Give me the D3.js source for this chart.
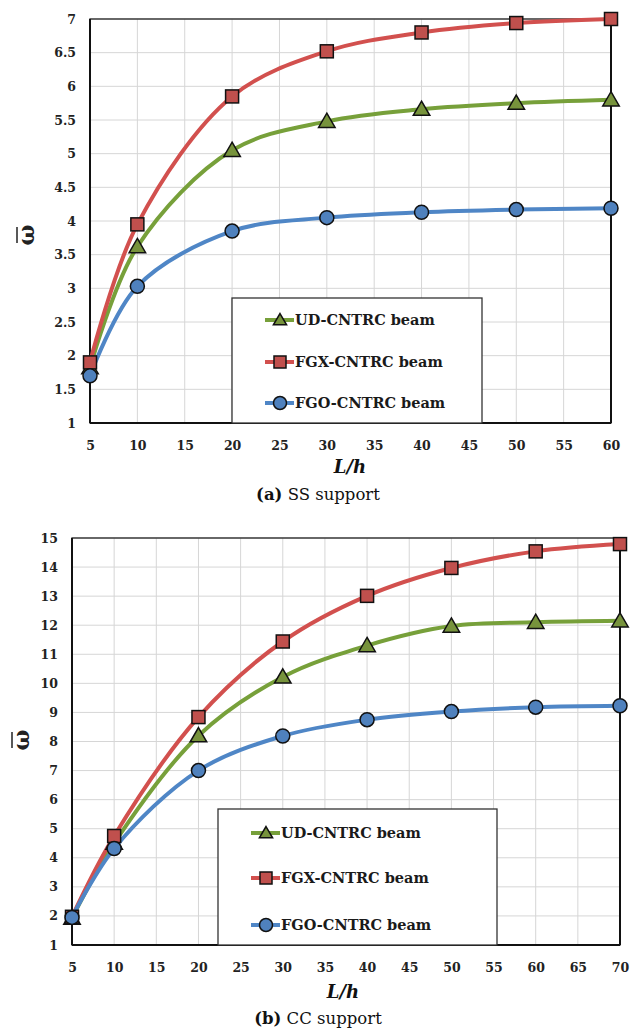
<!DOCTYPE html>
<html><head><meta charset="utf-8">
<script src="https://cdn.jsdelivr.net/npm/d3@7"></script>
<style>
body{margin:0;background:#fff;}
svg{display:block;}
text{font-family:"DejaVu Serif",serif;}
</style></head>
<body>
<svg id="c" width="630" height="1035"></svg>
<script>
// ---- data ----
const seriesNames = ["UD-CNTRC beam","FGX-CNTRC beam","FGO-CNTRC beam"];
const xTop = [5,10,20,30,40,50,60];
const udTop = [1.82,3.62,5.05,5.48,5.66,5.75,5.80];
const fgxTop = [1.90,3.95,5.85,6.52,6.80,6.94,7.00];
const fgoTop = [1.70,3.03,3.85,4.05,4.13,4.17,4.19];
const xTicksTop = [5,10,15,20,25,30,35,40,45,50,55,60];
const yTicksTop = [1,1.5,2,2.5,3,3.5,4,4.5,5,5.5,6,6.5,7];

const xBot = [5,10,20,30,40,50,60,70];
const udBot = [1.92,4.50,8.20,10.22,11.30,11.97,12.10,12.15];
const fgxBot = [1.97,4.75,8.84,11.44,13.01,13.97,14.54,14.79];
const fgoBot = [1.95,4.32,7.00,8.19,8.75,9.03,9.18,9.23];
const xTicksBot = [5,10,15,20,25,30,35,40,45,50,55,60,65,70];
const yTicksBot = [1,2,3,4,5,6,7,8,9,10,11,12,13,14,15];

const captionTop = ["(a)"," SS support"];
const captionBot = ["(b)"," CC support"];

// ---- styles ----
const FONT = "DejaVu Serif";
const lineCol = ["#77A03A","#D2504E","#4F86C6"];
const fillCol = ["#77933C","#C0504D","#4F81BD"];
const shapes = ["tri","sq","circ"];

const svg = d3.select("#c");

function marker(g, shape, x, y, s, fill){
  if(shape==="sq"){
    g.append("rect").attr("x",x-s/2).attr("y",y-s/2).attr("width",s).attr("height",s)
     .attr("fill",fill).attr("stroke","#111").attr("stroke-width",1.5);
  } else if(shape==="circ"){
    g.append("circle").attr("cx",x).attr("cy",y).attr("r",s/2)
     .attr("fill",fill).attr("stroke","#111").attr("stroke-width",1.5);
  } else {
    const h=s*0.9, w=s*1.1;
    g.append("path").attr("d",`M${x},${y-h*0.6}L${x+w/2},${y+h*0.45}L${x-w/2},${y+h*0.45}Z`)
     .attr("fill",fill).attr("stroke","#111").attr("stroke-width",1.5);
  }
}

function drawPanel(cfg){
  const {left,right,top,bottom,xs,ys,xTicks,yTicks,yDomain,xDomain,legend,caption,labelY,titleY,capY} = cfg;
  const x = d3.scaleLinear().domain(xDomain).range([left,right]);
  const y = d3.scaleLinear().domain(yDomain).range([bottom,top]);
  const g = svg.append("g");
  // grid
  g.append("g").selectAll("line").data(xTicks).join("line")
    .attr("x1",d=>x(d)).attr("x2",d=>x(d)).attr("y1",top).attr("y2",bottom)
    .attr("stroke","#d6d6d6").attr("stroke-width",1);
  g.append("g").selectAll("line").data(yTicks).join("line")
    .attr("y1",d=>y(d)).attr("y2",d=>y(d)).attr("x1",left).attr("x2",right)
    .attr("stroke","#d6d6d6").attr("stroke-width",1);
  // frame
  g.append("rect").attr("x",left).attr("y",top).attr("width",right-left).attr("height",bottom-top)
    .attr("fill","none").attr("stroke","#222").attr("stroke-width",1.3);
  g.append("line").attr("x1",left).attr("x2",left).attr("y1",top).attr("y2",bottom).attr("stroke","#111").attr("stroke-width",2);
  g.append("line").attr("x1",left).attr("x2",right).attr("y1",bottom).attr("y2",bottom).attr("stroke","#111").attr("stroke-width",2);
  g.append("line").attr("x1",right).attr("x2",right).attr("y1",top).attr("y2",bottom).attr("stroke","#111").attr("stroke-width",2);
  // axes with d3
  const yAxis = d3.axisLeft(y).tickValues(yTicks).tickSize(0).tickPadding(14).tickFormat(d=>String(d));
  const ya = g.append("g").attr("transform",`translate(${left},0)`).call(yAxis)
    .attr("font-family",FONT);
  ya.select(".domain").remove();
  ya.selectAll("text").style("font-family",FONT).attr("font-weight","bold").attr("font-size",12.5).attr("fill","#222");
  const xAxis = d3.axisBottom(x).tickValues(xTicks).tickSize(0).tickPadding(18).tickFormat(d=>String(d));
  const xa = g.append("g").attr("transform",`translate(0,${bottom})`).call(xAxis)
    .attr("font-family",FONT);
  xa.select(".domain").remove();
  xa.selectAll("text").style("font-family",FONT).attr("font-weight","bold").attr("font-size",12.5).attr("fill","#222");
  // lines
  const line = d3.line().x(d=>x(d[0])).y(d=>y(d[1])).curve(d3.curveCatmullRom.alpha(0.5));
  ys.forEach((vals,i)=>{
    g.append("path").datum(xs.map((xv,j)=>[xv,vals[j]])).attr("d",line)
      .attr("fill","none").attr("stroke",lineCol[i]).attr("stroke-width",4);
  });
  ys.forEach((vals,i)=>{
    const s = shapes[i]==="tri"?15:(shapes[i]==="sq"?13:14);
    xs.forEach((xv,j)=>marker(g,shapes[i],x(xv),y(vals[j]),s,fillCol[i]));
  });
  // legend
  const L = legend;
  g.append("rect").attr("x",L.x).attr("y",L.y).attr("width",L.w).attr("height",L.h)
    .attr("fill","#fff").attr("stroke","#333").attr("stroke-width",1.3);
  seriesNames.forEach((n,i)=>{
    const yy = L.rows[i];
    g.append("line").attr("x1",L.x+33).attr("x2",L.x+62).attr("y1",yy).attr("y2",yy)
      .attr("stroke",lineCol[i]).attr("stroke-width",4);
    const s = shapes[i]==="tri"?12:(shapes[i]==="sq"?12:13);
    marker(g,shapes[i],L.x+48,yy,s,fillCol[i]);
    g.append("text").attr("x",L.x+63).attr("y",yy).attr("dy","0.36em")
      .style("font-family",FONT).attr("font-weight","bold").attr("font-size",14.5).attr("fill","#1a1a1a").text(n);
  });
  // y title: omega with overline, rotated
  g.append("text").attr("transform",`translate(${labelY.x},${labelY.y}) rotate(-90)`)
    .attr("text-anchor","middle").attr("font-size",22).attr("font-weight","bold").attr("fill","#222")
    .style("font-family",FONT).text("ω");
  g.append("line").attr("x1",labelY.x-17).attr("x2",labelY.x-17).attr("y1",labelY.y-8).attr("y2",labelY.y+8)
    .attr("stroke","#222").attr("stroke-width",1.5);
  // x title
  g.append("text").attr("x",titleY.x).attr("y",titleY.y).attr("text-anchor","middle")
    .style("font-family",FONT).attr("font-size",18).attr("font-weight","bold").attr("font-style","italic").attr("fill","#111")
    .text("L/h");
  // caption
  const ct = g.append("text").attr("x",capY.x).attr("y",capY.y).attr("text-anchor","middle")
    .style("font-family",FONT).attr("font-size",16.5).attr("fill","#111");
  ct.append("tspan").attr("font-weight","bold").text(caption[0]);
  ct.append("tspan").text(caption[1]);
}

drawPanel({left:90,right:611,top:19,bottom:423,xs:xTop,ys:[udTop,fgxTop,fgoTop],
  xTicks:xTicksTop,yTicks:yTicksTop,xDomain:[5,60],yDomain:[1,7],
  legend:{x:232,y:298,w:250,h:125,rows:[320,362,403]},
  caption:captionTop,labelY:{x:34,y:235},titleY:{x:350,y:473},capY:{x:318,y:500}});

drawPanel({left:72,right:620,top:538,bottom:945,xs:xBot,ys:[udBot,fgxBot,fgoBot],
  xTicks:xTicksBot,yTicks:yTicksBot,xDomain:[5,70],yDomain:[1,15],
  legend:{x:218,y:809,w:279,h:136,rows:[833,878,925]},
  caption:captionBot,labelY:{x:29,y:740},titleY:{x:343,y:998},capY:{x:318,y:1024}});
</script>
</body></html>
